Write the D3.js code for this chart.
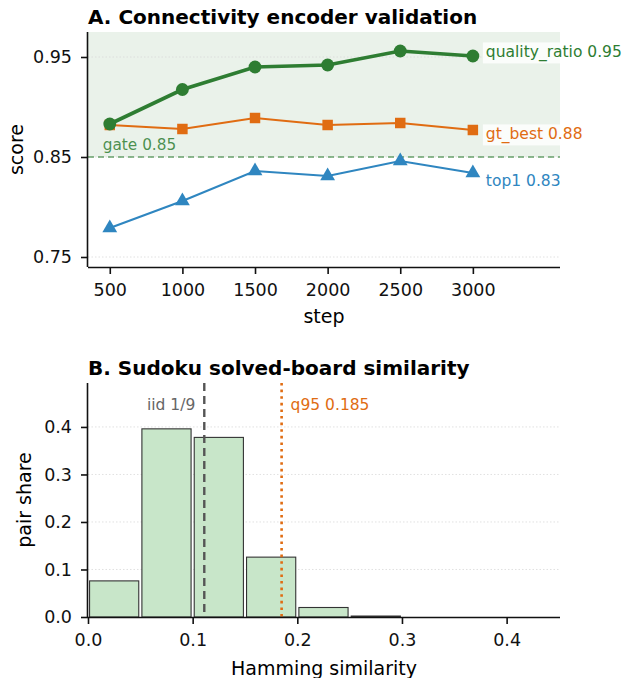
<!DOCTYPE html>
<html lang="en">
<head>
<meta charset="UTF-8">
<title>Encoder validation + Sudoku similarity</title>
<style>
body { margin: 0; background: #fff; }
svg text { font-family: "DejaVu Sans", sans-serif; }
.grid line { stroke: #d9d9d9; stroke-width: 0.8px; stroke-dasharray: 1.5,2; }
.axis path, .axis line { stroke: #111; stroke-width: 1.6px; }
.axis text { font-size: 17.5px; fill: #111; }
</style>
</head>
<body>
<script src="https://cdn.jsdelivr.net/npm/d3@7/dist/d3.min.js"></script>
<script>
// panel A data
var steps = [500, 1000, 1500, 2000, 2500, 3000];
var qualityRatio = [0.883, 0.9175, 0.940, 0.942, 0.956, 0.951];
var gtBest = [0.882, 0.878, 0.889, 0.882, 0.884, 0.877];
var top1 = [0.779, 0.806, 0.836, 0.831, 0.846, 0.834];
var gate = 0.85;
var scoreTicks = [0.75, 0.85, 0.95];

// panel B data
var binStarts = [0, 0.05, 0.10, 0.15, 0.20, 0.25];
var binWidth = 0.05;
var pairShare = [0.076, 0.396, 0.378, 0.126, 0.020, 0.002];
var shareTicks = [0.0, 0.1, 0.2, 0.3, 0.4];
var simTicks = [0.0, 0.1, 0.2, 0.3, 0.4];
var iid = 1 / 9;
var q95 = 0.185;

var green = "#2e7d32", orange = "#e06c12", blue = "#2f86c0";

var svg = d3.select("body").append("svg")
    .attr("width", 623)
    .attr("height", 678);

// ---------- panel A ----------
var a = { left: 88, top: 32, width: 472, height: 235 };
var gA = svg.append("g").attr("transform", "translate(" + a.left + "," + a.top + ")");

var x = d3.scaleLinear().domain([350, 3600]).range([0, a.width]);
var y = d3.scaleLinear().domain([0.74, 0.975]).range([a.height, 0]);

gA.append("rect")
    .attr("x", 0).attr("y", 0)
    .attr("width", a.width)
    .attr("height", y(gate))
    .attr("fill", green).attr("fill-opacity", 0.1);

gA.append("g").attr("class", "grid")
    .selectAll("line").data(scoreTicks).enter().append("line")
    .attr("x1", 0).attr("x2", a.width)
    .attr("y1", function(d) { return y(d); })
    .attr("y2", function(d) { return y(d); });

gA.append("line")
    .attr("x1", 0).attr("x2", a.width)
    .attr("y1", y(gate)).attr("y2", y(gate))
    .attr("stroke", green).attr("stroke-opacity", 0.7)
    .attr("stroke-width", 1.6).attr("stroke-dasharray", "6,4");

gA.append("text")
    .attr("x", x(500) - 7).attr("y", y(gate) - 7)
    .attr("fill", green).attr("fill-opacity", 0.85)
    .style("font-size", "15.3px")
    .text("gate " + gate.toFixed(2));

var series = [
    { name: "quality_ratio", values: qualityRatio, color: green, width: 3.6, marker: d3.symbolCircle, size: 130, nudge: -4 },
    { name: "gt_best", values: gtBest, color: orange, width: 2.2, marker: d3.symbolSquare, size: 110, nudge: 4 },
    { name: "top1", values: top1, color: blue, width: 2.2, marker: d3.symbolTriangle, size: 95, nudge: 7.5 }
];

var line = d3.line()
    .x(function(d, i) { return x(steps[i]); })
    .y(function(d) { return y(d); });

// draw order: orange, blue, then green on top
[series[1], series[2], series[0]].forEach(function(s) {
    gA.append("path")
        .datum(s.values)
        .attr("fill", "none")
        .attr("stroke", s.color)
        .attr("stroke-width", s.width)
        .attr("d", line);

    gA.selectAll(null).data(s.values).enter().append("path")
        .attr("d", d3.symbol().type(s.marker).size(s.size))
        .attr("transform", function(d, i) { return "translate(" + x(steps[i]) + "," + y(d) + ")"; })
        .attr("fill", s.color);
});

var fmt2 = d3.format(".2f");
series.forEach(function(s) {
    var last = s.values[s.values.length - 1];
    var lbl = gA.append("g")
        .attr("transform", "translate(" + (x(steps[steps.length - 1]) + 13) + "," + (y(last) + s.nudge) + ")");
    var t = lbl.append("text")
        .attr("dy", "0.35em")
        .attr("fill", s.color)
        .style("font-size", "15.5px")
        .text(s.name + " " + fmt2(last));
    var bb = t.node().getBBox();
    lbl.insert("rect", "text")
        .attr("x", bb.x - 3).attr("y", bb.y - 1)
        .attr("width", bb.width + 6).attr("height", bb.height + 2)
        .attr("fill", "#fff").attr("fill-opacity", 0.8);
});

gA.append("g").attr("class", "axis")
    .attr("transform", "translate(0," + a.height + ")")
    .call(d3.axisBottom(x).tickValues(steps).tickFormat(d3.format("d")).tickSize(7).tickPadding(10))
    .call(function(g) { g.select(".domain").attr("d", "M0,0.5H" + a.width); });

gA.append("g").attr("class", "axis")
    .call(d3.axisLeft(y).tickValues(scoreTicks).tickFormat(fmt2).tickSize(7).tickPadding(9))
    .call(function(g) { g.select(".domain").attr("d", "M-0.5,0V" + a.height); });

gA.append("text")
    .attr("x", 0).attr("y", -8)
    .style("font-size", "20px").style("font-weight", "bold")
    .text("A. Connectivity encoder validation");

gA.append("text")
    .attr("x", a.width / 2).attr("y", a.height + 56)
    .attr("text-anchor", "middle")
    .style("font-size", "19px")
    .text("step");

gA.append("text")
    .attr("transform", "translate(" + (-65) + "," + (a.height / 2) + ") rotate(-90)")
    .attr("text-anchor", "middle")
    .style("font-size", "19px")
    .text("score");

// ---------- panel B ----------
var b = { left: 88, top: 383, width: 472, height: 234 };
var gB = svg.append("g").attr("transform", "translate(" + b.left + "," + b.top + ")");

var xb = d3.scaleLinear().domain([0, 0.451]).range([0, b.width]);
var yb = d3.scaleLinear().domain([0, 0.4925]).range([b.height, 0]);

gB.append("g").attr("class", "grid")
    .selectAll("line").data(shareTicks.slice(1)).enter().append("line")
    .attr("x1", 0).attr("x2", b.width)
    .attr("y1", function(d) { return yb(d); })
    .attr("y2", function(d) { return yb(d); });

var rw = 0.94;
gB.selectAll(".bar").data(pairShare).enter().append("rect")
    .attr("class", "bar")
    .attr("x", function(d, i) { return xb(binStarts[i] + binWidth * (1 - rw) / 2); })
    .attr("width", xb(binWidth * rw) - xb(0))
    .attr("y", function(d) { return yb(d); })
    .attr("height", function(d) { return yb(0) - yb(d); })
    .attr("fill", "#c8e6c9")
    .attr("stroke", "#333")
    .attr("stroke-width", 1.1);

gB.append("line")
    .attr("x1", xb(iid)).attr("x2", xb(iid))
    .attr("y1", 0).attr("y2", b.height)
    .attr("stroke", "#555").attr("stroke-width", 2.4)
    .attr("stroke-dasharray", "8,5");

gB.append("line")
    .attr("x1", xb(q95)).attr("x2", xb(q95))
    .attr("y1", 0).attr("y2", b.height)
    .attr("stroke", orange).attr("stroke-width", 2.6)
    .attr("stroke-dasharray", "2.6,4");

gB.append("text")
    .attr("x", xb(iid) - 9).attr("y", 27)
    .attr("text-anchor", "end")
    .attr("fill", "#666")
    .style("font-size", "15.5px")
    .text("iid 1/9");

gB.append("text")
    .attr("x", xb(q95) + 9).attr("y", 27)
    .attr("fill", orange)
    .style("font-size", "15.5px")
    .text("q95 " + d3.format(".3f")(q95));

gB.append("g").attr("class", "axis")
    .attr("transform", "translate(0," + b.height + ")")
    .call(d3.axisBottom(xb).tickValues(simTicks).tickFormat(d3.format(".1f")).tickSize(7).tickPadding(10))
    .call(function(g) { g.select(".domain").attr("d", "M0,0.5H" + b.width); });

gB.append("g").attr("class", "axis")
    .call(d3.axisLeft(yb).tickValues(shareTicks).tickFormat(d3.format(".1f")).tickSize(7).tickPadding(9))
    .call(function(g) { g.select(".domain").attr("d", "M-0.5,0V" + b.height); });

gB.append("text")
    .attr("x", 0).attr("y", -8)
    .style("font-size", "20px").style("font-weight", "bold")
    .text("B. Sudoku solved-board similarity");

gB.append("text")
    .attr("x", b.width / 2).attr("y", b.height + 58)
    .attr("text-anchor", "middle")
    .style("font-size", "19px")
    .text("Hamming similarity");

gB.append("text")
    .attr("transform", "translate(" + (-57) + "," + (b.height / 2) + ") rotate(-90)")
    .attr("text-anchor", "middle")
    .style("font-size", "19px")
    .text("pair share");
</script>
</body>
</html>
